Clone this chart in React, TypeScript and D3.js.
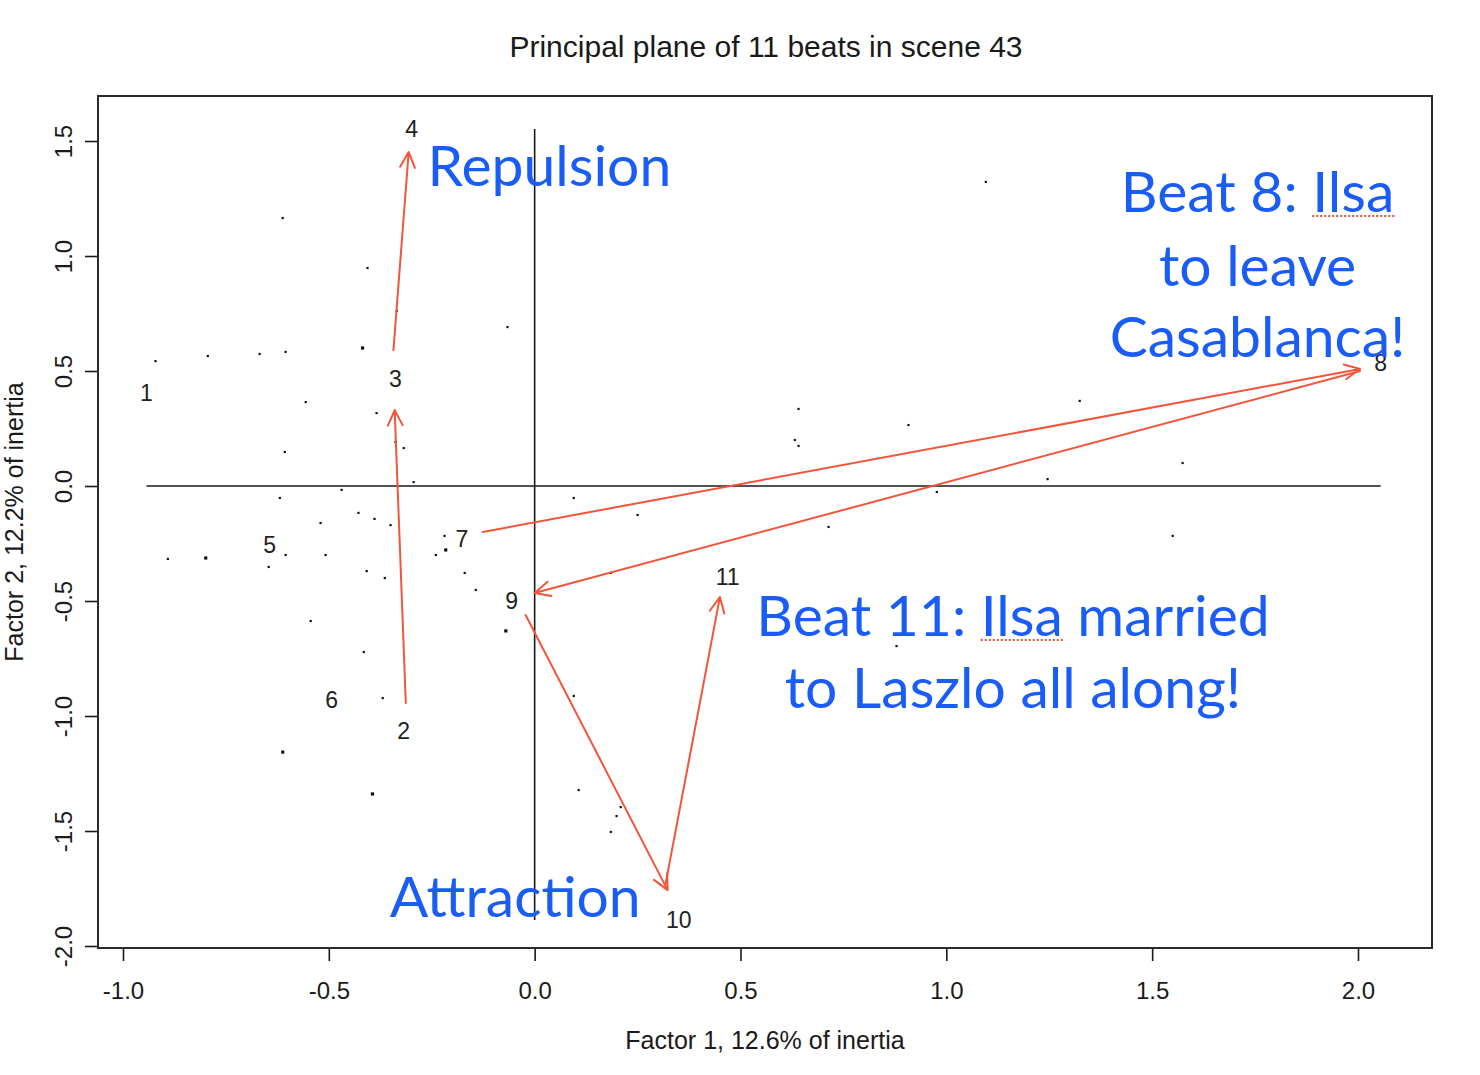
import React, { useRef, useEffect } from 'react'
import * as d3 from 'd3'

// beats of scene 43 on the first two factors (label centres)
const beatIds = ['1', '2', '3', '4', '5', '6', '7', '8', '9', '10', '11']
const beatX = [-0.943, -0.318, -0.338, -0.299, -0.644, -0.493, -0.177, 2.055, -0.056, 0.350, 0.469]
const beatY = [0.404, -1.065, 0.465, 1.552, -0.257, -0.930, -0.230, 0.535, -0.500, -1.887, -0.396]

// word points (count > 1 where several words sit on top of each other)
const wordX = [
  -0.612, -0.406, -0.335, -0.066, -0.921, -0.794, -0.668, -0.605, -0.418, -0.556,
  -0.384, -0.338, -0.318, -0.607, -0.294, -0.469, -0.619, -0.428, -0.520, -0.389,
  -0.350, -0.219, -0.216, -0.240, -0.891, -0.799, -0.605, -0.508, -0.646, -0.408,
  -0.364, -0.170, -0.143, -0.070, -0.544, -0.415, -0.369, -0.612, -0.394, 0.641,
  0.632, 0.641, 0.908, 0.095, 0.250, 0.714, 0.977, 0.185, 0.879, 0.095,
  0.107, 0.209, 0.199, 0.185, 1.096, 1.324, 1.574, 1.246, 1.550, 1.569,
]
const wordY = [
  1.165, 0.948, 0.761, 0.691, 0.543, 0.565, 0.574, 0.583, 0.600, 0.365,
  0.317, 0.191, 0.165, 0.148, 0.017, -0.017, -0.052, -0.117, -0.161, -0.143,
  -0.170, -0.217, -0.278, -0.300, -0.317, -0.313, -0.300, -0.300, -0.352, -0.370,
  -0.400, -0.378, -0.452, -0.630, -0.587, -0.722, -0.922, -1.157, -1.339, 0.335,
  0.200, 0.174, 0.265, -0.052, -0.126, -0.178, -0.026, -0.378, -0.696, -0.913,
  -1.322, -1.396, -1.435, -1.504, 1.322, 0.370, 0.100, 0.030, -0.217, 0.665,
]
const wordCount = [
  1, 1, 1, 1, 1, 1, 1, 1, 2, 1,
  1, 1, 1, 1, 1, 1, 1, 1, 1, 1,
  1, 1, 2, 1, 1, 2, 1, 1, 1, 1,
  1, 1, 1, 2, 1, 1, 1, 2, 2, 1,
  1, 1, 1, 1, 1, 1, 1, 1, 1, 1,
  1, 1, 1, 1, 1, 1, 1, 1, 1, 1,
]

const xTicks = [-1.0, -0.5, 0.0, 0.5, 1.0, 1.5, 2.0]
const yTicks = [-2.0, -1.5, -1.0, -0.5, 0.0, 0.5, 1.0, 1.5]

// arrows following the beat sequence: 2->3->4 and 7->8->9->10->11
const arrowStart = [[-0.313, -0.943], [-0.343, 0.591], [-0.126, -0.200], [2.005, 0.500], [-0.022, -0.561], [0.318, -1.730]]
const arrowEnd = [[-0.340, 0.330], [-0.306, 1.452], [2.005, 0.509], [0.000, -0.465], [0.323, -1.757], [0.450, -0.483]]

// callouts: text lines, anchor point in data units
const noteLines = ['Repulsion', 'Attraction', 'Beat 8: Ilsa', 'to leave', 'Casablanca!', 'Beat 11: Ilsa married', 'to Laszlo all along!']
const noteX = [-0.260, -0.352, 1.756, 1.756, 1.756, 1.162, 1.162]
const noteY = [1.304, -1.874, 1.191, 0.870, 0.561, -0.652, -0.965]
const noteAnchor = ['start', 'start', 'middle', 'middle', 'middle', 'middle', 'middle']

const title = 'Principal plane of 11 beats in scene 43'
const xTitle = 'Factor 1, 12.6% of inertia'
const yTitle = 'Factor 2, 12.2% of inertia'

export default function App() {
  const ref = useRef<SVGSVGElement>(null)
  const width = 1480
  const height = 1075

  useEffect(() => {
    document.body.style.margin = '0'
    const svg = d3.select(ref.current)
    svg.selectAll('*').remove()

    const box = { left: 98, top: 96, right: 1432, bottom: 948 }
    const x = d3.scaleLinear().domain([-1.0607, 2.1798]).range([box.left, box.right])
    const y = d3.scaleLinear().domain([-2.0087, 1.6957]).range([box.bottom, box.top])
    const ink = '#1a1a1a'
    const font = '"Liberation Sans", Arial, Helvetica, sans-serif'
    const fmt = (d: number) => d.toFixed(1)

    svg.append('rect').attr('width', width).attr('height', height).attr('fill', '#fff')

    svg.append('text')
      .attr('x', 766).attr('y', 57)
      .attr('text-anchor', 'middle')
      .attr('font-family', font).attr('font-size', 30).attr('fill', ink)
      .text(title)

    // axes
    const xAxis = svg.append('g').attr('transform', `translate(0,${box.bottom})`)
      .call(d3.axisBottom(x).tickValues(xTicks).tickSize(13).tickFormat(fmt as any))
    const yAxis = svg.append('g').attr('transform', `translate(${box.left},0)`)
      .call(d3.axisLeft(y).tickValues(yTicks).tickSize(13).tickFormat(fmt as any))
    for (const g of [xAxis, yAxis]) {
      g.select('.domain').remove()
      g.selectAll('line').attr('stroke', ink).attr('stroke-width', 1.6)
      g.selectAll('text').attr('font-family', font).attr('font-size', 24).attr('fill', ink)
    }
    xAxis.append('line')
      .attr('x1', x(xTicks[0])).attr('x2', x(xTicks[xTicks.length - 1]))
      .attr('stroke', ink).attr('stroke-width', 1.6)
    yAxis.append('line')
      .attr('y1', y(yTicks[0])).attr('y2', y(yTicks[yTicks.length - 1]))
      .attr('stroke', ink).attr('stroke-width', 1.6)
    xAxis.selectAll('.tick text').attr('y', 51).attr('dy', null)
    // R writes the y tick labels parallel to the axis
    yAxis.selectAll('.tick text')
      .attr('x', null).attr('dy', null)
      .attr('text-anchor', 'middle')
      .attr('transform', 'translate(-35,0) rotate(-90)')
      .attr('dominant-baseline', 'central')

    svg.append('text')
      .attr('x', 765).attr('y', 1049)
      .attr('text-anchor', 'middle')
      .attr('font-family', font).attr('font-size', 25).attr('fill', ink)
      .text(xTitle)
    svg.append('text')
      .attr('transform', `translate(14,${(box.top + box.bottom) / 2}) rotate(-90)`)
      .attr('text-anchor', 'middle').attr('dominant-baseline', 'central')
      .attr('font-family', font).attr('font-size', 25).attr('fill', ink)
      .text(yTitle)

    svg.append('rect')
      .attr('x', box.left).attr('y', box.top)
      .attr('width', box.right - box.left).attr('height', box.bottom - box.top)
      .attr('fill', 'none').attr('stroke', '#2a2a2a').attr('stroke-width', 2)

    // cross through the origin spanning the beats
    const bx = d3.extent(beatX) as [number, number]
    const by = d3.extent(beatY) as [number, number]
    svg.append('line')
      .attr('x1', x(bx[0])).attr('x2', x(bx[1])).attr('y1', y(0)).attr('y2', y(0))
      .attr('stroke', ink).attr('stroke-width', 1.6)
    svg.append('line')
      .attr('x1', x(0)).attr('x2', x(0)).attr('y1', y(by[1])).attr('y2', y(by[0]))
      .attr('stroke', ink).attr('stroke-width', 1.6)

    svg.append('g').selectAll('rect')
      .data(wordX.map((v, i) => ({ x: v, y: wordY[i], n: wordCount[i] })))
      .join('rect')
      .attr('x', d => x(d.x) - (d.n > 1 ? 1.6 : 1.1))
      .attr('y', d => y(d.y) - (d.n > 1 ? 1.6 : 1.1))
      .attr('width', d => (d.n > 1 ? 3.2 : 2.2))
      .attr('height', d => (d.n > 1 ? 3.2 : 2.2))
      .attr('fill', '#111')

    svg.append('g').selectAll('text')
      .data(beatIds)
      .join('text')
      .attr('x', (d, i) => x(beatX[i]))
      .attr('y', (d, i) => y(beatY[i]))
      .attr('text-anchor', 'middle').attr('dominant-baseline', 'central')
      .attr('font-family', font).attr('font-size', 23).attr('fill', '#222')
      .text(d => d)

    // red arrows with open heads
    const red = '#f2553b'
    const arrows = svg.append('g').attr('stroke', red).attr('stroke-width', 2).attr('fill', 'none')
      .attr('stroke-linecap', 'round').attr('stroke-linejoin', 'round')
    arrowStart.forEach((s, i) => {
      const e = arrowEnd[i]
      const x1 = x(s[0]), y1 = y(s[1]), x2 = x(e[0]), y2 = y(e[1])
      const a = Math.atan2(y2 - y1, x2 - x1)
      const len = 17, spread = Math.PI / 7
      const p = d3.path()
      p.moveTo(x1, y1)
      p.lineTo(x2, y2)
      p.moveTo(x2 - len * Math.cos(a - spread), y2 - len * Math.sin(a - spread))
      p.lineTo(x2, y2)
      p.lineTo(x2 - len * Math.cos(a + spread), y2 - len * Math.sin(a + spread))
      arrows.append('path').attr('d', p.toString())
    })

    // blue callouts
    const blue = '#1a5cf8'
    const notes = svg.append('g')
      .attr('font-family', 'Lato, "Open Sans", sans-serif').attr('font-size', 57).attr('fill', blue)
    noteLines.forEach((t, i) => {
      const el = notes.append('text')
        .attr('x', x(noteX[i])).attr('y', y(noteY[i]))
        .attr('text-anchor', noteAnchor[i])
        .text(t)
      // dotted spell-check mark under "Ilsa"
      const k = t.indexOf('Ilsa')
      if (k >= 0) {
        const node = el.node() as SVGTextElement
        const a0 = node.getStartPositionOfChar(k)
        const a1 = node.getEndPositionOfChar(k + 3)
        svg.append('line')
          .attr('x1', a0.x).attr('x2', a1.x)
          .attr('y1', y(noteY[i]) + 4).attr('y2', y(noteY[i]) + 4)
          .attr('stroke', '#e0503a').attr('stroke-width', 2).attr('stroke-dasharray', '2,2')
      }
    })
  }, [])

  return <svg ref={ref} width={width} height={height} style={{ display: 'block' }} />
}
